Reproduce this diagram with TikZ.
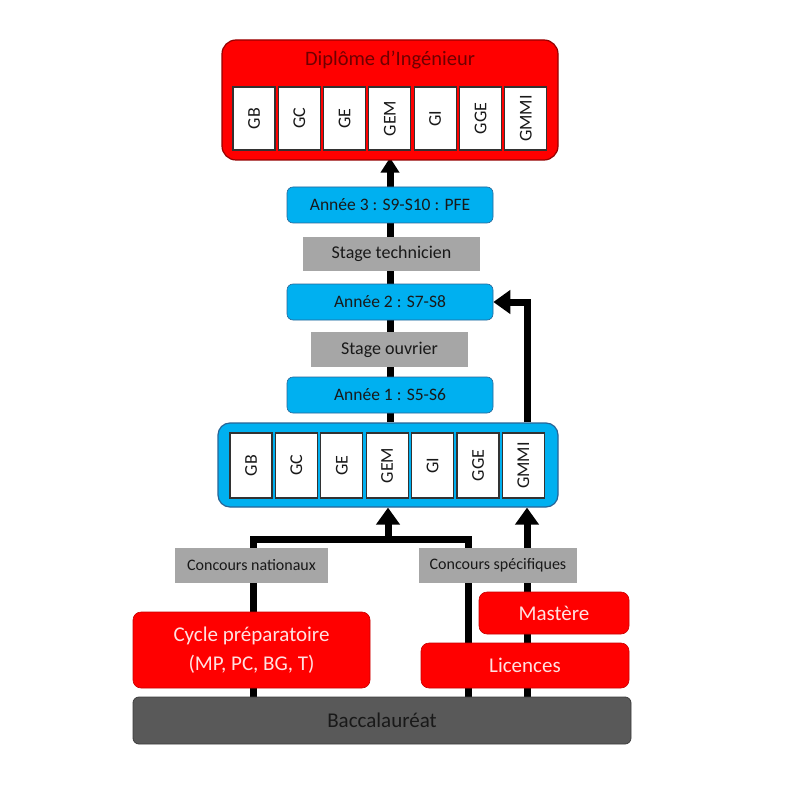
\documentclass[tikz,border=0pt]{standalone}
\usepackage{fontspec}
\setmainfont{Carlito}
\usetikzlibrary{arrows.meta,backgrounds}
\definecolor{bfill}{RGB}{0,176,240}
\definecolor{bborder}{RGB}{40,100,150}
\definecolor{rfill}{RGB}{255,0,0}
\definecolor{rborder}{RGB}{200,0,0}
\definecolor{dborder}{RGB}{150,0,0}
\definecolor{gfill}{RGB}{166,166,166}
\definecolor{bacfill}{RGB}{89,89,89}
\definecolor{bacborder}{RGB}{60,60,60}
\definecolor{titlecol}{RGB}{110,0,0}
\definecolor{txt}{RGB}{25,25,25}
\definecolor{rtxt}{RGB}{255,225,225}
\tikzset{
  fsz/.style={font=\fontsize{#1}{#1}\selectfont},
  bigred/.style={draw=dborder,line width=1.2pt,fill=rfill,rounded corners=14pt},
  bigblue/.style={draw=bborder,line width=1.2pt,fill=bfill,rounded corners=12pt},
  inbox/.style={draw={rgb,255:red,50;green,50;blue,50},line width=1.1pt,fill=white,rotate=90,minimum width=63pt,minimum height=42pt,inner sep=0pt,text=txt,fsz=18},
  yearbox/.style={draw=bborder,line width=0.6pt,fill=bfill,rounded corners=6pt,minimum width=206pt,minimum height=36pt,inner sep=0pt,text=txt,fsz=17.5},
  stagebox/.style={fill=gfill,minimum height=34pt,inner sep=0pt,text=txt,fsz=18},
  concbox/.style={fill=gfill,minimum width=155pt,minimum height=35pt,inner sep=0pt,text=txt,fsz=16},
  redbox/.style={fill=rfill,draw=rborder,line width=0.6pt,rounded corners=8pt,inner sep=0pt,text=rtxt,fsz=21,align=center},
  bacbox/.style={fill=bacfill,draw=bacborder,line width=0.8pt,rounded corners=6pt,inner sep=0pt,text=txt,fsz=21,minimum width=498pt,minimum height=47pt},
  conn/.style={line width=7pt,black},
  arr/.style={conn,-{Triangle[width=23pt,length=17pt]}},
  arrsmall/.style={conn,-{Triangle[width=18pt,length=15pt]}}
}
\begin{document}
\begin{tikzpicture}[x=1pt,y=-1pt]
\useasboundingbox (0,0) rectangle (799,799);
% top diploma box
\node[bigred,minimum width=336pt,minimum height=120pt] (dip) at (390,100) {};
\node[text=titlecol,fsz=20.5] (diptitle) at (390,60) {Diplôme d’Ingénieur};
\foreach \i/\lab in {1/GB,2/GC,3/GE,4/GEM,5/GI,6/GGE,7/GMMI}{
  \node[inbox] (t\i) at ({254+45.3*(\i-1)},118.5) {\lab};
}
% years and stages
\node[yearbox] (a3) at (390,205) {Année 3 : S9-S10 : PFE};
\node[stagebox,minimum width=177pt] (st) at (391.5,254) {Stage technicien};
\node[yearbox] (a2) at (390,302) {Année 2 : S7-S8};
\node[stagebox,minimum width=157pt,minimum height=35pt] (so) at (389.5,349.5) {Stage ouvrier};
\node[yearbox] (a1) at (390,395) {Année 1 : S5-S6};
% program box
\node[bigblue,minimum width=340pt,minimum height=84pt] (prog) at (388,465) {};
\foreach \i/\lab in {1/GB,2/GC,3/GE,4/GEM,5/GI,6/GGE,7/GMMI}{
  \node[inbox,minimum width=65pt] (p\i) at ({251+45.4*(\i-1)},465.5) {\lab};
}
% concours
\node[concbox,minimum width=153pt] (cn) at (251.5,565.5) {Concours nationaux};
\node[concbox,minimum width=158pt] (cs) at (498,565.5) {Concours spécifiques};
% origins
\node[redbox,minimum width=150pt,minimum height=42pt] (mas) at (554,613) {Mastère};
\node[redbox,minimum width=208pt,minimum height=45pt] (lic) at (525,665.5) {Licences};
\node[redbox,minimum width=237pt,minimum height=76pt] (cyc) at (251.5,650) {Cycle préparatoire\\[8pt](MP, PC, BG, T)};
\node[bacbox] (bac) at (382,720.5) {Baccalauréat};
% junction coordinates
\coordinate (jL) at (253,539);
\coordinate (jR) at (468,539);
\coordinate (gm) at (527,302);
\begin{pgfonlayer}{background}
  \fill[white] (0,0) rectangle (799,799);
  \draw[arrsmall] (prog.north -| dip.south) -- ([yshift=3pt]dip.south);
  \draw[conn] (bac.north -| jL) -- (jL) -- (jR) -- (bac.north -| jR);
  \draw[arr] (prog.south |- jL) -- (prog.south);
  \draw[arr] (bac.north -| gm) -- (prog.south -| gm);
  \draw[arr] (prog.north -| gm) -- (gm) -- (a2.east);
\end{pgfonlayer}
\end{tikzpicture}
\end{document}
